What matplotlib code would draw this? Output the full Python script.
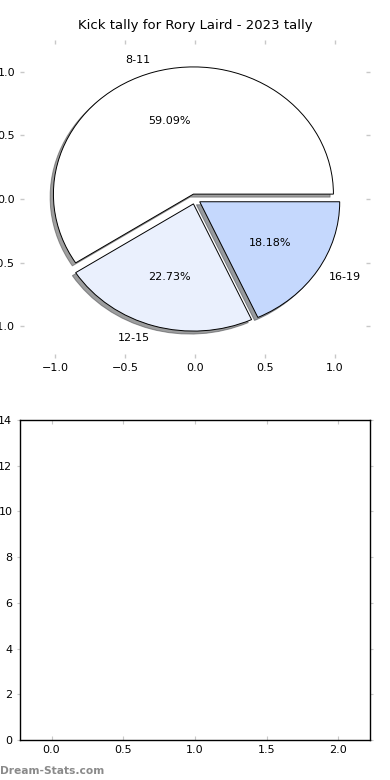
import matplotlib
matplotlib.use("Agg")
import matplotlib.pyplot as plt
import numpy as np

# kick tally data
labels = ['8-11', '12-15', '16-19']
counts = [13, 5, 4]
colors = ['#ffffff', '#eaf0fd', '#c5d8fd']
explode = [0.04, 0.04, 0.04]

title = 'Kick tally for Rory Laird - 2023 tally'
pie_ticks = [-1.0, -0.5, 0.0, 0.5, 1.0]
bar_yticks = [0, 2, 4, 6, 8, 10, 12, 14]
bar_xticks = [0.0, 0.5, 1.0, 1.5, 2.0]

plt.rcParams['font.family'] = 'DejaVu Sans'
plt.rcParams['font.size'] = 8

fig = plt.figure(figsize=(3.9, 7.8), dpi=100)

W, H = 390.0, 780.0
ax1 = fig.add_axes([20 / W, (H - 358) / H, 350 / W, 318 / H])
ax2 = fig.add_axes([20 / W, 40 / H, 350 / W, 320 / H])

# top: pie
wedges, texts, autotexts = ax1.pie(counts, labels=labels, colors=colors, explode=explode,
                                   autopct='%.2f%%', startangle=0,
                                   shadow={'ox': -0.017, 'oy': -0.017, 'shade': 0.75},
                                   wedgeprops={'edgecolor': 'black', 'linewidth': 0.7},
                                   textprops={'fontsize': 8})
ax1.set_aspect('auto')
ax1.set_xlim(-1.25, 1.25)
ax1.set_ylim(-1.25, 1.25)
ax1.set_xticks(pie_ticks)
ax1.set_yticks(pie_ticks)
ax1.tick_params(top=True, right=True, direction='in', length=3, width=1,
                color='#c8c8c8', labelsize=8)
ax1.set_title(title, fontsize=9.5, pad=8)

# bottom: empty tally axes
ax2.set_xlim(-0.22, 2.22)
ax2.set_ylim(0, 14)
ax2.set_xticks(bar_xticks)
ax2.set_yticks(bar_yticks)
ax2.tick_params(axis='x', top=True, direction='in', length=3, color='#c8c8c8', labelsize=8)
ax2.tick_params(axis='y', right=True, direction='out', length=2, color='#c8c8c8', labelsize=8)
for s in ax2.spines.values():
    s.set_linewidth(1.0)

fig.text(0.0, 0.008, 'Dream-Stats.com', color='#8a8a8a', fontsize=7.7, fontweight='bold')

fig.savefig('out.png', dpi=100)
